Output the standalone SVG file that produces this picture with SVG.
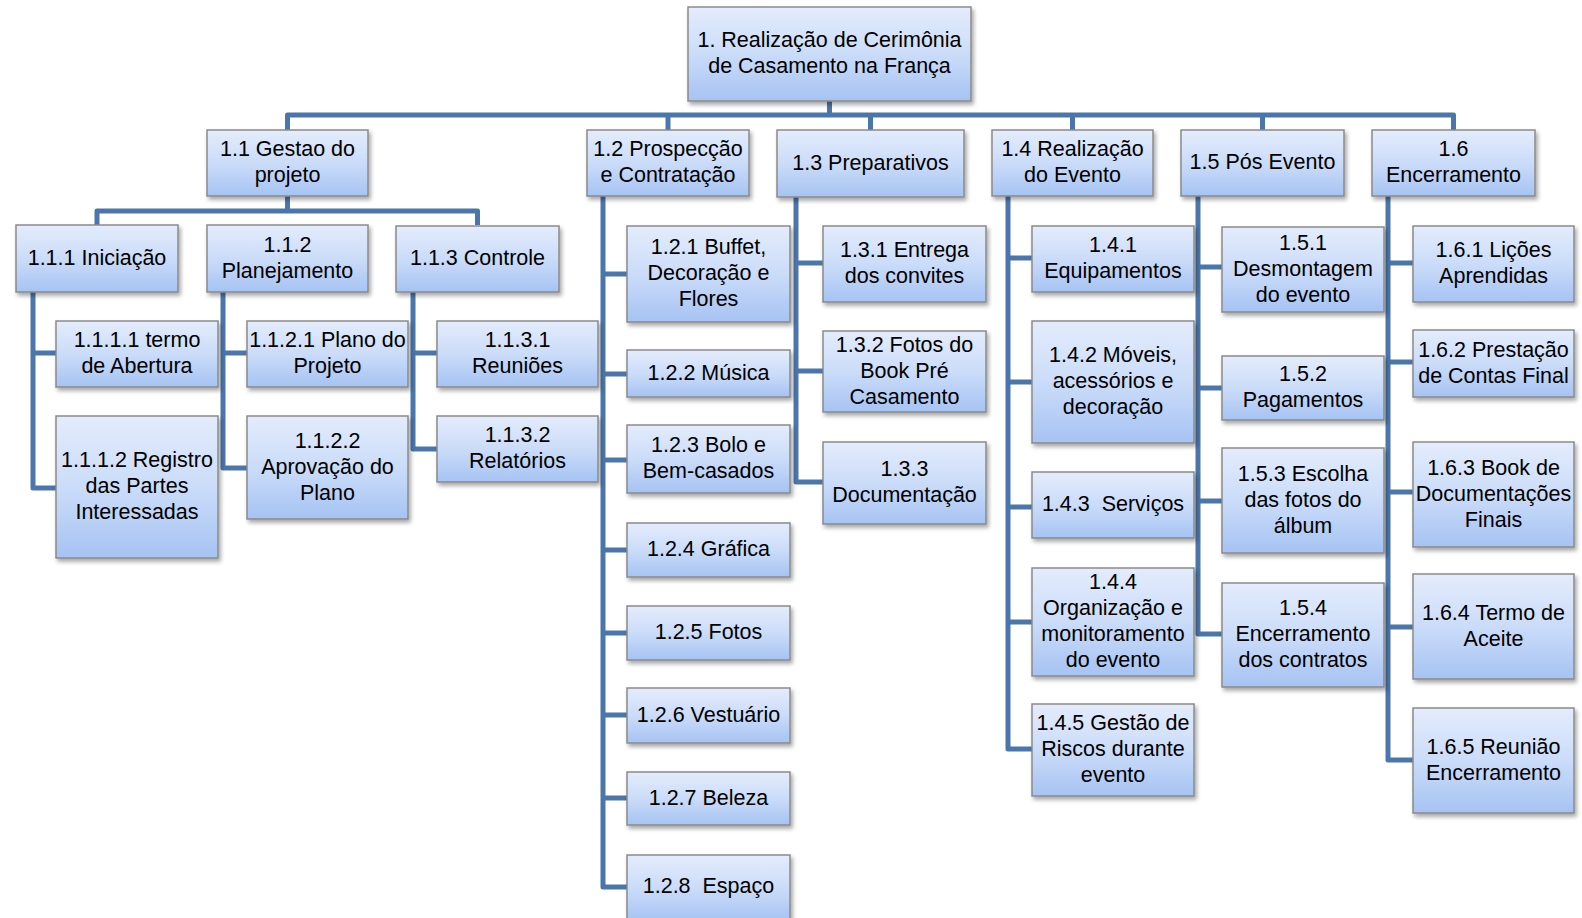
<svg xmlns="http://www.w3.org/2000/svg" width="1582" height="918" viewBox="0 0 1582 918">
  <defs>
    <linearGradient id="boxFill" x1="0" y1="0" x2="0" y2="1">
      <stop offset="0" stop-color="#e4ecfc"/>
      <stop offset="0.5" stop-color="#cbdcf9"/>
      <stop offset="1" stop-color="#a6c3f3"/>
    </linearGradient>
    <filter id="shadow" x="-10%" y="-10%" width="125%" height="130%">
      <feDropShadow dx="2" dy="3" stdDeviation="2" flood-color="#000" flood-opacity="0.35"/>
    </filter>
  </defs>
  <style>
    .b { fill: url(#boxFill); stroke: #8a8a8a; stroke-width: 1.5; filter: url(#shadow); }
    .t { font-family: "Liberation Sans", Arial, sans-serif; font-size: 21.5px; fill: #000; text-anchor: middle; dominant-baseline: central; white-space: pre; transform: translateY(-1px); }
    .c { fill: none; stroke: #4a76ab; stroke-width: 5; stroke-linejoin: round; }
  </style>
  <rect width="1582" height="918" fill="#fff"/>

  <!-- tree connectors -->
  <g id="connectors" class="c">
    <path d="M829.5,101 V115"/>
    <path d="M287.5,130 V115 H1453.5 V130"/>
    <path d="M668,115 V130 M870.5,115 V130 M1072.5,115 V130 M1262.5,115 V130"/>
    <path d="M287.5,196 V211"/>
    <path d="M97,225 V211 H477.5 V225"/>
    <path d="M33,292 V488 H56 M33,353 H56"/>
    <path d="M223,292 V468 H247 M223,353 H247"/>
    <path d="M413,292 V449 H437 M413,353 H437"/>
    <path d="M603,196 V887 H627 M603,274 H627 M603,374 H627 M603,460 H627 M603,550 H627 M603,633 H627 M603,715 H627 M603,798 H627"/>
    <path d="M796,197 V482 H823 M796,263 H823 M796,371 H823"/>
    <path d="M1008,196 V749 H1032 M1008,258 H1032 M1008,382 H1032 M1008,507 H1032 M1008,622 H1032"/>
    <path d="M1198,196 V634 H1222 M1198,267 H1222 M1198,388 H1222 M1198,501 H1222"/>
    <path d="M1388,196 V760 H1413 M1388,263 H1413 M1388,362 H1413 M1388,492 H1413 M1388,627 H1413"/>
  </g>

  <!-- level 0 -->
  <g id="n1">
    <rect class="b" x="688" y="7" width="283" height="94"/>
    <text class="t"><tspan x="829.5" y="41">1. Realização de Cerimônia</tspan><tspan x="829.5" y="67">de Casamento na França</tspan></text>
  </g>

  <!-- level 1 -->
  <g id="n1-1">
    <rect class="b" x="207" y="130" width="161" height="66"/>
    <text class="t"><tspan x="287.5" y="150">1.1 Gestao do</tspan><tspan x="287.5" y="176">projeto</tspan></text>
  </g>
  <g id="n1-2">
    <rect class="b" x="587" y="130" width="162" height="66"/>
    <text class="t"><tspan x="668" y="150">1.2 Prospecção</tspan><tspan x="668" y="176">e Contratação</tspan></text>
  </g>
  <g id="n1-3">
    <rect class="b" x="777" y="130" width="187" height="67"/>
    <text class="t"><tspan x="870.5" y="163.5">1.3 Preparativos</tspan></text>
  </g>
  <g id="n1-4">
    <rect class="b" x="992" y="130" width="161" height="66"/>
    <text class="t"><tspan x="1072.5" y="150">1.4 Realização</tspan><tspan x="1072.5" y="176">do Evento</tspan></text>
  </g>
  <g id="n1-5">
    <rect class="b" x="1181" y="130" width="163" height="66"/>
    <text class="t"><tspan x="1262.5" y="163">1.5 Pós Evento</tspan></text>
  </g>
  <g id="n1-6">
    <rect class="b" x="1372" y="130" width="163" height="66"/>
    <text class="t"><tspan x="1453.5" y="150">1.6</tspan><tspan x="1453.5" y="176">Encerramento</tspan></text>
  </g>

  <!-- 1.1 branch -->
  <g id="n1-1-1">
    <rect class="b" x="16" y="225" width="162" height="67"/>
    <text class="t"><tspan x="97" y="258.5">1.1.1 Iniciação</tspan></text>
  </g>
  <g id="n1-1-2">
    <rect class="b" x="207" y="225" width="161" height="67"/>
    <text class="t"><tspan x="287.5" y="245.5">1.1.2</tspan><tspan x="287.5" y="271.5">Planejamento</tspan></text>
  </g>
  <g id="n1-1-3">
    <rect class="b" x="396" y="226" width="163" height="66"/>
    <text class="t"><tspan x="477.5" y="259">1.1.3 Controle</tspan></text>
  </g>
  <g id="n1-1-1-1">
    <rect class="b" x="56" y="321" width="162" height="66"/>
    <text class="t"><tspan x="137" y="341">1.1.1.1 termo</tspan><tspan x="137" y="367">de Abertura</tspan></text>
  </g>
  <g id="n1-1-1-2">
    <rect class="b" x="56" y="416" width="162" height="142"/>
    <text class="t"><tspan x="137" y="461">1.1.1.2 Registro</tspan><tspan x="137" y="487">das Partes</tspan><tspan x="137" y="513">Interessadas</tspan></text>
  </g>
  <g id="n1-1-2-1">
    <rect class="b" x="247" y="321" width="161" height="66"/>
    <text class="t"><tspan x="327.5" y="341">1.1.2.1 Plano do</tspan><tspan x="327.5" y="367">Projeto</tspan></text>
  </g>
  <g id="n1-1-2-2">
    <rect class="b" x="247" y="416" width="161" height="103"/>
    <text class="t"><tspan x="327.5" y="441.5">1.1.2.2</tspan><tspan x="327.5" y="467.5">Aprovação do</tspan><tspan x="327.5" y="493.5">Plano</tspan></text>
  </g>
  <g id="n1-1-3-1">
    <rect class="b" x="437" y="321" width="161" height="66"/>
    <text class="t"><tspan x="517.5" y="341">1.1.3.1</tspan><tspan x="517.5" y="367">Reuniões</tspan></text>
  </g>
  <g id="n1-1-3-2">
    <rect class="b" x="437" y="416" width="161" height="66"/>
    <text class="t"><tspan x="517.5" y="436">1.1.3.2</tspan><tspan x="517.5" y="462">Relatórios</tspan></text>
  </g>

  <!-- 1.2 branch -->
  <g id="n1-2-1">
    <rect class="b" x="627" y="226" width="163" height="96"/>
    <text class="t"><tspan x="708.5" y="248">1.2.1 Buffet,</tspan><tspan x="708.5" y="274">Decoração e</tspan><tspan x="708.5" y="300">Flores</tspan></text>
  </g>
  <g id="n1-2-2">
    <rect class="b" x="627" y="350" width="163" height="47"/>
    <text class="t"><tspan x="708.5" y="373.5">1.2.2 Música</tspan></text>
  </g>
  <g id="n1-2-3">
    <rect class="b" x="627" y="425" width="163" height="68"/>
    <text class="t"><tspan x="708.5" y="446">1.2.3 Bolo e</tspan><tspan x="708.5" y="472">Bem-casados</tspan></text>
  </g>
  <g id="n1-2-4">
    <rect class="b" x="627" y="523" width="163" height="54"/>
    <text class="t"><tspan x="708.5" y="550">1.2.4 Gráfica</tspan></text>
  </g>
  <g id="n1-2-5">
    <rect class="b" x="627" y="606" width="163" height="54"/>
    <text class="t"><tspan x="708.5" y="633">1.2.5 Fotos</tspan></text>
  </g>
  <g id="n1-2-6">
    <rect class="b" x="627" y="688" width="163" height="55"/>
    <text class="t"><tspan x="708.5" y="715.5">1.2.6 Vestuário</tspan></text>
  </g>
  <g id="n1-2-7">
    <rect class="b" x="627" y="772" width="163" height="53"/>
    <text class="t"><tspan x="708.5" y="798.5">1.2.7 Beleza</tspan></text>
  </g>
  <g id="n1-2-8">
    <rect class="b" x="627" y="855" width="163" height="66"/>
    <text class="t"><tspan x="708.5" y="887">1.2.8  Espaço</tspan></text>
  </g>

  <!-- 1.3 branch -->
  <g id="n1-3-1">
    <rect class="b" x="823" y="226" width="163" height="76"/>
    <text class="t"><tspan x="904.5" y="251">1.3.1 Entrega</tspan><tspan x="904.5" y="277">dos convites</tspan></text>
  </g>
  <g id="n1-3-2">
    <rect class="b" x="823" y="331" width="163" height="81"/>
    <text class="t"><tspan x="904.5" y="345.5">1.3.2 Fotos do</tspan><tspan x="904.5" y="371.5">Book Pré</tspan><tspan x="904.5" y="397.5">Casamento</tspan></text>
  </g>
  <g id="n1-3-3">
    <rect class="b" x="823" y="442" width="163" height="82"/>
    <text class="t"><tspan x="904.5" y="470">1.3.3</tspan><tspan x="904.5" y="496">Documentação</tspan></text>
  </g>

  <!-- 1.4 branch -->
  <g id="n1-4-1">
    <rect class="b" x="1032" y="226" width="162" height="66"/>
    <text class="t"><tspan x="1113" y="246">1.4.1</tspan><tspan x="1113" y="272">Equipamentos</tspan></text>
  </g>
  <g id="n1-4-2">
    <rect class="b" x="1032" y="321" width="162" height="122"/>
    <text class="t"><tspan x="1113" y="356">1.4.2 Móveis,</tspan><tspan x="1113" y="382">acessórios e</tspan><tspan x="1113" y="408">decoração</tspan></text>
  </g>
  <g id="n1-4-3">
    <rect class="b" x="1032" y="472" width="162" height="66"/>
    <text class="t"><tspan x="1113" y="505">1.4.3  Serviços</tspan></text>
  </g>
  <g id="n1-4-4">
    <rect class="b" x="1032" y="568" width="162" height="108"/>
    <text class="t"><tspan x="1113" y="583">1.4.4</tspan><tspan x="1113" y="609">Organização e</tspan><tspan x="1113" y="635">monitoramento</tspan><tspan x="1113" y="661">do evento</tspan></text>
  </g>
  <g id="n1-4-5">
    <rect class="b" x="1032" y="704" width="162" height="92"/>
    <text class="t"><tspan x="1113" y="724">1.4.5 Gestão de</tspan><tspan x="1113" y="750">Riscos durante</tspan><tspan x="1113" y="776">evento</tspan></text>
  </g>

  <!-- 1.5 branch -->
  <g id="n1-5-1">
    <rect class="b" x="1222" y="227" width="162" height="85"/>
    <text class="t"><tspan x="1303" y="243.5">1.5.1</tspan><tspan x="1303" y="269.5">Desmontagem</tspan><tspan x="1303" y="295.5">do evento</tspan></text>
  </g>
  <g id="n1-5-2">
    <rect class="b" x="1222" y="356" width="162" height="64"/>
    <text class="t"><tspan x="1303" y="375">1.5.2</tspan><tspan x="1303" y="401">Pagamentos</tspan></text>
  </g>
  <g id="n1-5-3">
    <rect class="b" x="1222" y="448" width="162" height="105"/>
    <text class="t"><tspan x="1303" y="474.5">1.5.3 Escolha</tspan><tspan x="1303" y="500.5">das fotos do</tspan><tspan x="1303" y="526.5">álbum</tspan></text>
  </g>
  <g id="n1-5-4">
    <rect class="b" x="1222" y="583" width="162" height="104"/>
    <text class="t"><tspan x="1303" y="609">1.5.4</tspan><tspan x="1303" y="635">Encerramento</tspan><tspan x="1303" y="661">dos contratos</tspan></text>
  </g>

  <!-- 1.6 branch -->
  <g id="n1-6-1">
    <rect class="b" x="1413" y="226" width="161" height="76"/>
    <text class="t"><tspan x="1493.5" y="251">1.6.1 Lições</tspan><tspan x="1493.5" y="277">Aprendidas</tspan></text>
  </g>
  <g id="n1-6-2">
    <rect class="b" x="1413" y="330" width="161" height="67"/>
    <text class="t"><tspan x="1493.5" y="350.5">1.6.2 Prestação</tspan><tspan x="1493.5" y="376.5">de Contas Final</tspan></text>
  </g>
  <g id="n1-6-3">
    <rect class="b" x="1413" y="442" width="161" height="105"/>
    <text class="t"><tspan x="1493.5" y="468.5">1.6.3 Book de</tspan><tspan x="1493.5" y="494.5">Documentações</tspan><tspan x="1493.5" y="520.5">Finais</tspan></text>
  </g>
  <g id="n1-6-4">
    <rect class="b" x="1413" y="574" width="161" height="105"/>
    <text class="t"><tspan x="1493.5" y="613.5">1.6.4 Termo de</tspan><tspan x="1493.5" y="639.5">Aceite</tspan></text>
  </g>
  <g id="n1-6-5">
    <rect class="b" x="1413" y="708" width="161" height="105"/>
    <text class="t"><tspan x="1493.5" y="747.5">1.6.5 Reunião</tspan><tspan x="1493.5" y="773.5">Encerramento</tspan></text>
  </g>
</svg>
